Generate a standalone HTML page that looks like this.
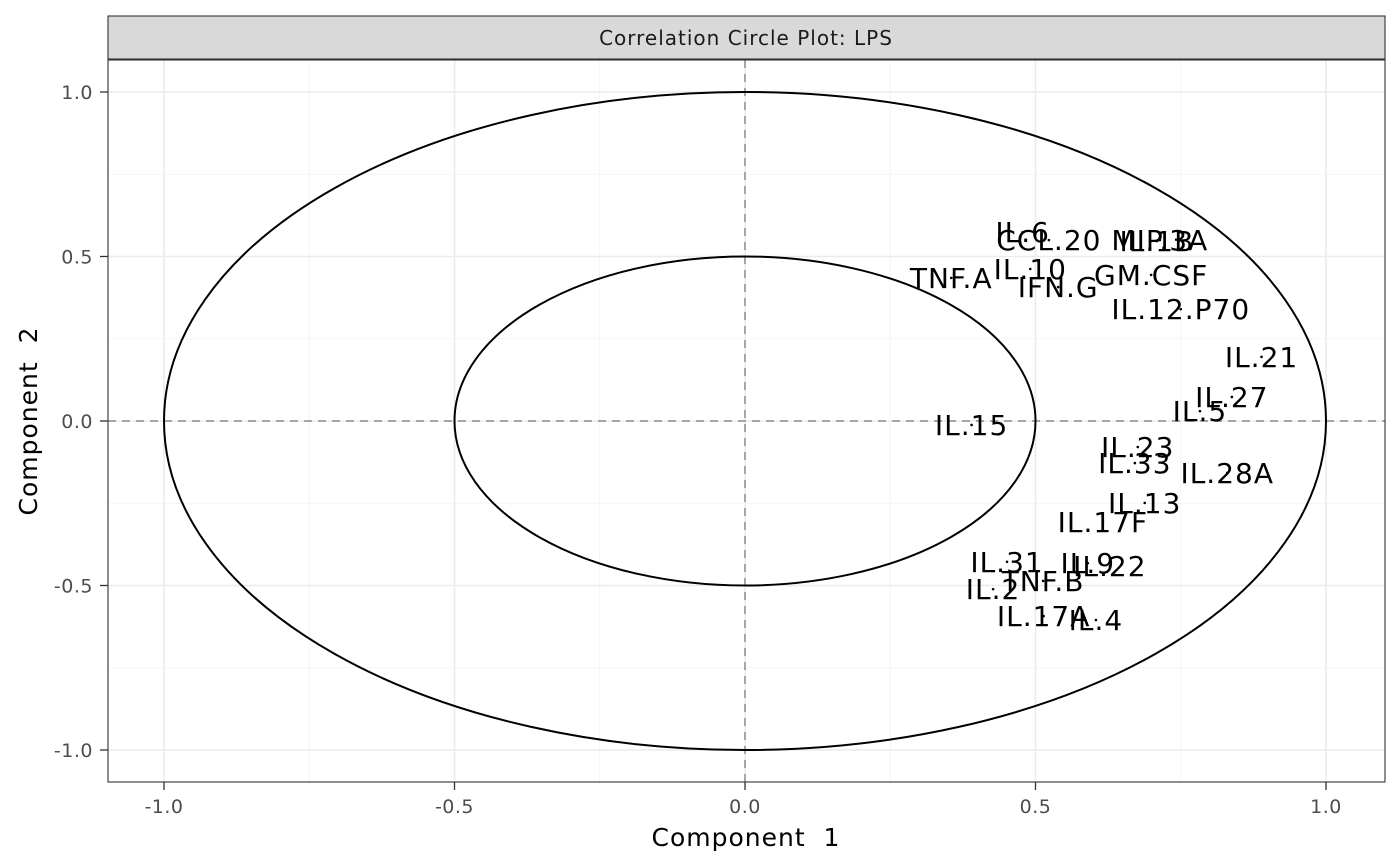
<!DOCTYPE html>
<html><head><meta charset="utf-8"><style>
html,body{margin:0;padding:0;background:#fff}
svg{display:block;font-family:"DejaVu Sans","Liberation Sans",sans-serif}
</style></head><body>
<svg id="chart" width="1400" height="866">
<g id="grid"></g>
<g id="circles"></g>
<g id="marks"></g>
<rect x="108" y="60" width="1277" height="722" fill="none" stroke="#333" stroke-width="1.1"/>
<rect x="108" y="16" width="1277" height="43" fill="#d9d9d9" stroke="#333" stroke-width="1.1"/>
<text x="746" y="45" text-anchor="middle" font-size="20" letter-spacing="1" fill="#1a1a1a">Correlation Circle Plot: LPS</text>
<g id="axes"></g>
<text x="746" y="846" text-anchor="middle" font-size="25" letter-spacing="1" fill="#000">Component&#160; 1</text>
<text transform="translate(37,421) rotate(-90)" text-anchor="middle" font-size="25" letter-spacing="1" fill="#000">Component&#160; 2</text>
</svg>
<script>
const labels = ["IL.6","CCL.20","MIP.3A","IL.1B","TNF.A","IL.10","IFN.G","GM.CSF","IL.12.P70","IL.21","IL.27","IL.5","IL.15","IL.23","IL.33","IL.28A","IL.13","IL.17F","IL.31","IL.9","IL.22","TNF.B","IL.2","IL.17A","IL.4"];
const comp1 = [0.478,0.523,0.714,0.709,0.355,0.491,0.539,0.699,0.750,0.889,0.838,0.783,0.390,0.676,0.671,0.830,0.688,0.616,0.451,0.590,0.628,0.513,0.427,0.514,0.604];
const comp2 = [0.574,0.550,0.550,0.547,0.435,0.462,0.407,0.444,0.340,0.195,0.073,0.030,-0.012,-0.079,-0.128,-0.158,-0.249,-0.307,-0.428,-0.432,-0.441,-0.486,-0.511,-0.593,-0.605];
const majorTicks = [-1,-0.5,0,0.5,1];
const minorTicks = [-0.75,-0.25,0.25,0.75];
const tickLabels = ["-1.0","-0.5","0.0","0.5","1.0"];
const radii = [1,0.5];

const NS="http://www.w3.org/2000/svg";
const X0=108,X1=1385,Y0=60,Y1=782;
const sx=v=>745+v*581;
const sy=v=>421-v*329;
function mk(tag,attrs,parent){const e=document.createElementNS(NS,tag);for(const k in attrs)e.setAttribute(k,attrs[k]);parent.appendChild(e);return e;}
const grid=document.getElementById('grid'),axes=document.getElementById('axes'),circ=document.getElementById('circles'),marks=document.getElementById('marks');
minorTicks.forEach(t=>{
  let a=mk('line',{x1:sx(t),x2:sx(t),y1:Y0,y2:Y1,stroke:'#f2f2f2','stroke-width':0.8},grid);
  
  let b=mk('line',{x1:X0,x2:X1,y1:sy(t),y2:sy(t),stroke:'#f2f2f2','stroke-width':0.8},grid);
  
});
majorTicks.forEach((t,i)=>{
  let a=mk('line',{x1:sx(t),x2:sx(t),y1:Y0,y2:Y1,stroke:'#ebebeb','stroke-width':1.6},grid);
  
  let b=mk('line',{x1:X0,x2:X1,y1:sy(t),y2:sy(t),stroke:'#ebebeb','stroke-width':1.6},grid);
  
  let tx=mk('line',{x1:sx(t),x2:sx(t),y1:Y1,y2:Y1+8,stroke:'#333','stroke-width':1.3},axes);
  
  let lx=mk('text',{x:sx(t),y:Y1+31,'text-anchor':'middle','font-size':19,'letter-spacing':0.5,fill:'#4d4d4d'},axes);
  lx.textContent=tickLabels[i];
  
  let ty=mk('line',{x1:X0-8,x2:X0,y1:sy(t),y2:sy(t),stroke:'#333','stroke-width':1.3},axes);
  
  let ly=mk('text',{x:X0-15,y:sy(t)+7,'text-anchor':'end','font-size':19,'letter-spacing':0.5,fill:'#4d4d4d'},axes);
  ly.textContent=tickLabels[i];
  
});
let h=mk('line',{x1:X0,x2:X1,y1:sy(0),y2:sy(0),stroke:'#a6a6a6','stroke-width':2,'stroke-dasharray':'8,6'},grid);

let v=mk('line',{x1:sx(0),x2:sx(0),y1:Y0,y2:Y1,stroke:'#a6a6a6','stroke-width':2,'stroke-dasharray':'8,6'},grid);

radii.forEach(r=>{
  let c=mk('ellipse',{cx:sx(0),cy:sy(0),rx:r*581,ry:r*329,fill:'none',stroke:'#000','stroke-width':2},circ);
  
});
labels.forEach((l,i)=>{
  let d=mk('circle',{cx:sx(comp1[i]),cy:sy(comp2[i]),r:1.3,fill:'#000'},marks);
  
  let t=mk('text',{x:sx(comp1[i]),y:sy(comp2[i])+10,'text-anchor':'middle','font-size':28,'letter-spacing':1,fill:'#000'},marks);
  t.textContent=l;
  
});
</script>
</body></html>
